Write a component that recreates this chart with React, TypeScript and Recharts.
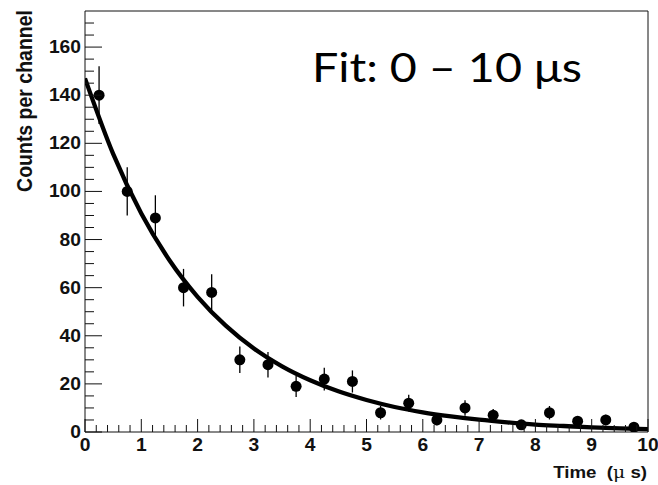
import React from 'react';
import {
  ComposedChart,
  XAxis,
  YAxis,
  Scatter,
  Line,
  ErrorBar,
  ReferenceArea,
} from 'recharts';

// measured decay histogram: bin centres (µs), counts and their errors
const binCenters = [0.25, 0.75, 1.25, 1.75, 2.25, 2.75, 3.25, 3.75, 4.25, 4.75, 5.25, 5.75, 6.25, 6.75, 7.25, 7.75, 8.25, 8.75, 9.25, 9.75];
const counts = [140, 100, 89, 60, 58, 30, 28, 19, 22, 21, 8, 12, 5, 10, 7, 3, 8, 4.5, 5, 2];
const countErrors = [12, 10, 9.4, 7.8, 7.6, 5.5, 5.3, 4.4, 4.7, 4.6, 2.8, 3.5, 2.2, 3.2, 2.6, 1.7, 2.8, 2.1, 2.2, 1.4];

// fitted exponential, sampled along the time axis
const fitTimes = [0, 0.5, 1, 1.5, 2, 2.5, 3, 3.5, 4, 4.5, 5, 5.5, 6, 6.5, 7, 7.5, 8, 8.5, 9, 9.5, 10];
const fitValues = [147, 115.6, 90.8, 71.4, 56.2, 44.2, 34.7, 27.3, 21.5, 16.9, 13.3, 10.4, 8.2, 6.5, 5.1, 4.0, 3.1, 2.5, 1.9, 1.5, 1.2];

const xTicks = [
  0, 0.2, 0.4, 0.6, 0.8, 1, 1.2, 1.4, 1.6, 1.8, 2, 2.2, 2.4, 2.6, 2.8, 3, 3.2, 3.4, 3.6, 3.8,
  4, 4.2, 4.4, 4.6, 4.8, 5, 5.2, 5.4, 5.6, 5.8, 6, 6.2, 6.4, 6.6, 6.8, 7, 7.2, 7.4, 7.6, 7.8,
  8, 8.2, 8.4, 8.6, 8.8, 9, 9.2, 9.4, 9.6, 9.8, 10,
];
const yTicks = [
  0, 5, 10, 15, 20, 25, 30, 35, 40, 45, 50, 55, 60, 65, 70, 75, 80, 85,
  90, 95, 100, 105, 110, 115, 120, 125, 130, 135, 140, 145, 150, 155, 160, 165, 170,
];

const W = 658;
const H = 485;
const labelFont = '"Liberation Sans", Arial, Helvetica, sans-serif';
const ink = '#111';

const histData = binCenters.map((x, i) => ({ x, y: counts[i], err: countErrors[i] }));
const fitData = fitTimes.map((x, i) => ({ x, y: fitValues[i] }));

const XTick = (props: any) => {
  const { x, y, payload } = props;
  const v = payload.value;
  const major = Math.abs(v - Math.round(v)) < 1e-6;
  return (
    <g>
      <line x1={x} x2={x} y1={y} y2={y - (major ? 13 : 7)} stroke={ink} strokeWidth={1} />
      {major && (
        <text
          transform={`translate(${x},${y + 19}) scale(1.1,1)`}
          textAnchor="middle"
          fontFamily={labelFont}
          fontWeight="bold"
          fontSize={17.5}
          fill={ink}
        >
          {Math.round(v)}
        </text>
      )}
    </g>
  );
};

const YTick = (props: any) => {
  const { x, y, payload } = props;
  const v = payload.value;
  const major = v % 20 === 0;
  return (
    <g>
      <line x1={x} x2={x + (major ? 17 : 9)} y1={y} y2={y} stroke={ink} strokeWidth={1} />
      {major && (
        <text
          transform={`translate(${x - 4},${y + 6}) scale(1.1,1)`}
          textAnchor="end"
          fontFamily={labelFont}
          fontWeight="bold"
          fontSize={17.5}
          fill={ink}
        >
          {v}
        </text>
      )}
    </g>
  );
};

const Marker = (props: any) => <circle cx={props.cx} cy={props.cy} r={5.5} fill="#000" />;

export default function App() {
  return (
    <div style={{ position: 'absolute', left: 0, top: 0, width: W, height: H, background: '#fff' }}>
      <ComposedChart width={W} height={H} margin={{ top: 11, right: 10, bottom: 23, left: 0 }}>
        <XAxis
          type="number"
          dataKey="x"
          domain={[0, 10]}
          ticks={xTicks}
          interval={0}
          height={30}
          tickSize={0}
          tickMargin={0}
          tickLine={false}
          axisLine={false}
          tick={<XTick />}
          allowDataOverflow
        />
        <YAxis
          type="number"
          dataKey="y"
          domain={[0, 175]}
          ticks={yTicks}
          interval={0}
          width={85}
          tickSize={0}
          tickMargin={0}
          tickLine={false}
          axisLine={false}
          tick={<YTick />}
          allowDataOverflow
        />
        <ReferenceArea x1={0} x2={10} y1={0} y2={175} fill="none" stroke={ink} strokeWidth={1} />
        <Scatter data={histData} fill="#000" shape={Marker} isAnimationActive={false}>
          <ErrorBar dataKey="err" direction="y" width={0} stroke="#000" strokeWidth={1.3} />
        </Scatter>
        <Line
          data={fitData}
          dataKey="y"
          type="monotone"
          dot={false}
          stroke="#000"
          strokeWidth={4.3}
          isAnimationActive={false}
        />
      </ComposedChart>
      <svg
        width={W}
        height={H}
        style={{ position: 'absolute', left: 0, top: 0, pointerEvents: 'none' }}
      >
        <text
          transform="translate(32,10) scale(1.1,1) rotate(-90)"
          textAnchor="end"
          fontFamily={labelFont}
          fontWeight="bold"
          fontSize={19.5}
          fill={ink}
        >
          Counts per channel
        </text>
        <text
          transform="translate(647,478) scale(1.1,1)"
          textAnchor="end"
          fontFamily={labelFont}
          fontWeight="bold"
          fontSize={17}
          fill={ink}
          style={{ whiteSpace: 'pre' }}
        >
          {'Time  ('}
          <tspan fontWeight="normal" fontFamily='"DejaVu Serif", serif'>μ</tspan>
          {' s)'}
        </text>
        <text
          x={312}
          y={82}
          fontFamily='Lato, "Open Sans", sans-serif'
          fontSize={40}
          fill="#000"
          textLength={270}
          lengthAdjust="spacingAndGlyphs"
        >
          Fit: 0 – 10 μs
        </text>
      </svg>
    </div>
  );
}
